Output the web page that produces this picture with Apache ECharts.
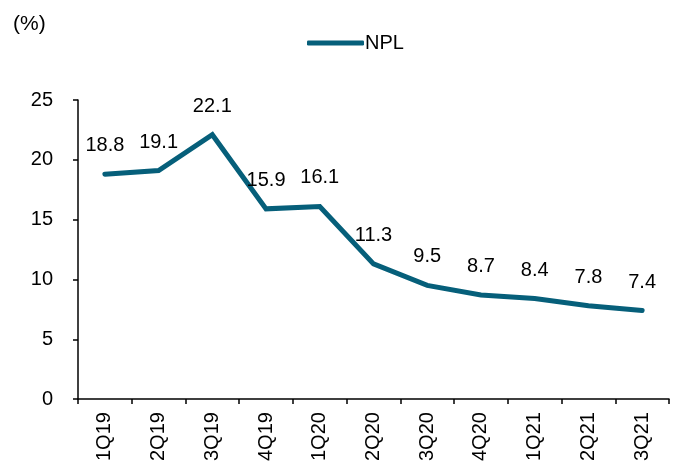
<!DOCTYPE html>
<html>
<head>
<meta charset="utf-8">
<script src="https://cdn.jsdelivr.net/npm/echarts@6/dist/echarts.min.js"></script>
<style>
  html, body { margin: 0; padding: 0; background: #fff; }
  #chart { width: 678px; height: 464px; }
</style>
</head>
<body>
<div id="chart"></div>
<script>
var quarters = ['1Q19', '2Q19', '3Q19', '4Q19', '1Q20', '2Q20', '3Q20', '4Q20', '1Q21', '2Q21', '3Q21'];
var npl = [18.8, 19.1, 22.1, 15.9, 16.1, 11.3, 9.5, 8.7, 8.4, 7.8, 7.4];
var yTicks = [0, 5, 10, 15, 20, 25];

var font = 'Liberation Sans, Arial, sans-serif';
var lineColor = '#065f7a';

var chart = echarts.init(document.getElementById('chart'), null, { renderer: 'canvas' });

chart.setOption({
  animation: false,
  textStyle: { fontFamily: font, color: '#000' },
  title: {
    text: '(%)',
    left: 8,
    top: 9,
    textStyle: { fontFamily: font, fontSize: 21, fontWeight: 'normal', color: '#000' }
  },
  legend: {
    data: ['NPL'],
    left: 302,
    top: 28,
    icon: 'roundRect',
    itemWidth: 57,
    itemHeight: 5,
    itemGap: 4,
    textStyle: { fontFamily: font, fontSize: 20, color: '#000', padding: [0, 0, 0, -4] }
  },
  grid: { left: 78, right: 9, top: 100, bottom: 64, containLabel: false },
  xAxis: {
    type: 'category',
    data: quarters,
    boundaryGap: true,
    axisLine: { lineStyle: { color: '#000', width: 1.5 } },
    axisTick: { show: true, length: 5, lineStyle: { color: '#000', width: 1.5 } },
    axisLabel: { rotate: 90, margin: 13, fontSize: 20, color: '#000', fontFamily: font }
  },
  yAxis: {
    type: 'value',
    min: yTicks[0],
    max: yTicks[yTicks.length - 1],
    interval: 5,
    axisLine: { show: true, lineStyle: { color: '#000', width: 1.5 } },
    axisTick: { show: true, length: 5, lineStyle: { color: '#000', width: 1.5 } },
    splitLine: { show: false },
    axisLabel: { margin: 25, fontSize: 20, color: '#000', fontFamily: font }
  },
  series: [{
    name: 'NPL',
    type: 'line',
    data: npl,
    symbol: 'circle',
    symbolSize: 1,
    showSymbol: true,
    itemStyle: { color: lineColor },
    color: lineColor,
    lineStyle: { width: 5, color: lineColor, cap: 'round', join: 'miter' },
    label: {
      show: true,
      position: 'top',
      distance: 18,
      fontSize: 20,
      color: '#000',
      fontFamily: font,
      formatter: function (p) { return p.value.toFixed(1); }
    }
  }]
});
</script>
</body>
</html>
